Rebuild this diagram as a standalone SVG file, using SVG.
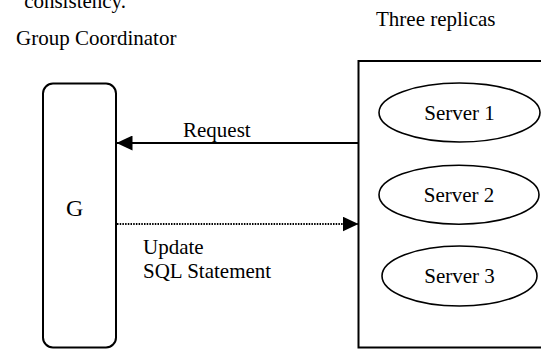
<svg xmlns="http://www.w3.org/2000/svg" width="541" height="349" viewBox="0 0 541 349">
<style>
text{font-family:"Liberation Serif","Times New Roman",serif;font-size:21px;fill:#000}
.box{fill:#fff;stroke:#000;stroke-width:2}
.ell{fill:#fff;stroke:#000;stroke-width:1.6}
.ln{fill:none;stroke:#000;stroke-width:2}
.dot{fill:none;stroke:#000;stroke-width:2;stroke-dasharray:1.5 1.2}
</style>
<defs>
<marker id="ah" markerUnits="userSpaceOnUse" markerWidth="16" markerHeight="15" refX="16" refY="7.5" orient="auto">
<path d="M0,0 L16,7.5 L0,15 Z" fill="#000"/>
</marker>
</defs>
<rect width="541" height="349" fill="#fff"/>
<text x="126" y="8" text-anchor="end">consistency.</text>
<text x="16" y="45">Group Coordinator</text>
<text x="376" y="26">Three replicas</text>
<g id="coordinator">
<rect class="box" x="43" y="83.5" width="73" height="264" rx="10" ry="10"/>
<text x="66" y="216" style="font-size:24px">G</text>
</g>
<g id="replicas">
<rect class="box" x="358.5" y="61" width="200" height="286.5"/>
</g>
<g id="server1">
<ellipse class="ell" cx="459.5" cy="112.5" rx="80.5" ry="29.5"/>
<text x="459.5" y="120" text-anchor="middle">Server 1</text>
</g>
<g id="server2">
<ellipse class="ell" cx="459" cy="194.7" rx="80" ry="29.5"/>
<text x="459" y="202" text-anchor="middle">Server 2</text>
</g>
<g id="server3">
<ellipse class="ell" cx="459.5" cy="276" rx="77.5" ry="30"/>
<text x="459.5" y="283" text-anchor="middle">Server 3</text>
</g>
<g id="connectors">
<line class="ln" x1="358" y1="143" x2="116.5" y2="143" marker-end="url(#ah)"/>
<line class="dot" x1="117" y1="224" x2="358.5" y2="224" marker-end="url(#ah)"/>
<text x="183" y="137">Request</text>
<text x="143" y="254">Update</text>
<text x="143" y="278">SQL Statement</text>
</g>
</svg>
